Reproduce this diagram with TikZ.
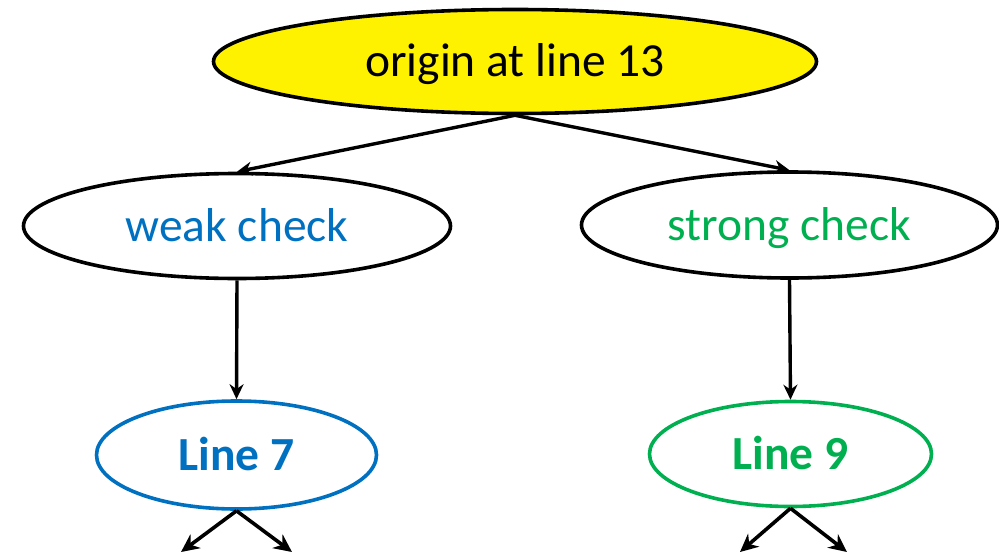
\documentclass[tikz,border=0pt]{standalone}
\usepackage{fontspec}
\setmainfont{Carlito}
\usetikzlibrary{shapes.geometric,arrows.meta}
\definecolor{chkblue}{RGB}{0,112,192}
\definecolor{chkgreen}{RGB}{0,176,80}
\tikzset{
  oval/.style={ellipse, draw=black, line width=3.6pt, inner sep=0pt,
               text height=32pt, text depth=2pt,
               font=\fontsize{47.5}{52}\selectfont},
  arr/.style={line width=3.4pt, -{Stealth[length=15pt,width=14pt]}},
  arrbig/.style={line width=3.6pt, -{Stealth[length=18pt,width=17pt]}},
}
\begin{document}
\begin{tikzpicture}[x=1pt,y=-1pt]
\useasboundingbox (0,0) rectangle (999,554);
\node[oval, fill=yellow, minimum width=603pt, minimum height=104pt] (origin) at (515,61.5) {origin at line 13};
\node[oval, text=chkblue, minimum width=427pt, minimum height=105pt] (weak) at (237,226) {weak check};
\node[oval, text=chkgreen, minimum width=416pt, minimum height=106pt] (strong) at (789.5,225) {strong check};
\node[oval, draw=chkblue, text=chkblue, font=\fontsize{47.5}{52}\selectfont\bfseries, minimum width=280pt, minimum height=108pt] (l7) at (236.5,455) {Line 7};
\node[oval, draw=chkgreen, text=chkgreen, font=\fontsize{47.5}{52}\selectfont\bfseries, minimum width=282pt, minimum height=105pt] (l9) at (790.5,454) {Line 9};
\coordinate (a1) at (181,552);
\coordinate (a2) at (292,552);
\coordinate (b1) at (740,552);
\coordinate (b2) at (847,552);
\draw[arr] (origin.south) -- (weak.north);
\draw[arr] (origin.south) -- (strong.north);
\draw[arr] (weak.south) -- (l7.north);
\draw[arr] (strong.south) -- (l9.north);
\draw[arrbig] (l7.south) -- (a1);
\draw[arrbig] (l7.south) -- (a2);
\draw[arrbig] (l9.south) -- (b1);
\draw[arrbig] (l9.south) -- (b2);
\end{tikzpicture}
\end{document}
